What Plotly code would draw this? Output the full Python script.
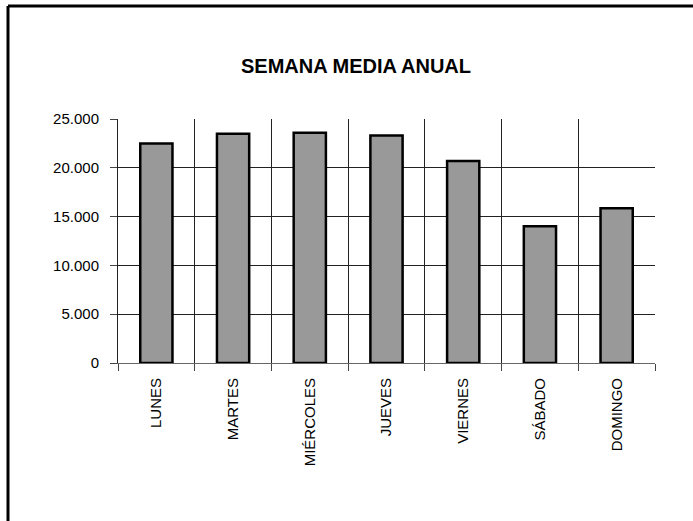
import plotly.graph_objects as go

dias = ["LUNES", "MARTES", "MIÉRCOLES", "JUEVES", "VIERNES", "SÁBADO", "DOMINGO"]
media = [22500, 23500, 23600, 23300, 20700, 14000, 15850]
y_ticks = [0, 5000, 10000, 15000, 20000, 25000]

# plot area in pixels (Excel-like chart)
W, H = 693, 521
L, R, T, B = 118, 655, 119, 363

fig = go.Figure()
fig.add_trace(go.Bar(
    x=dias, y=media,
    marker=dict(color="#999999", line=dict(color="black", width=2.5)),
    width=0.42,
))

font = "Liberation Sans, Arial, sans-serif"
fig.update_layout(
    width=W, height=H,
    margin=dict(l=L, r=W - R, t=T, b=H - B),
    paper_bgcolor="white", plot_bgcolor="white",
    separators=",.",
    showlegend=False,
    font=dict(family=font, size=15, color="black"),
    title=dict(text="<b>SEMANA MEDIA ANUAL</b>", x=(356 / W), xanchor="center",
               y=1 - 66 / H, yanchor="middle", font=dict(size=20)),
)
fig.update_xaxes(
    tickson="boundaries", showgrid=True, gridcolor="#222222", gridwidth=1,
    ticks="outside", ticklen=7, tickcolor="#444444",
    tickangle=-90, showline=True, linecolor="#666666", linewidth=1,
    ticklabelstandoff=8,
)
fig.update_yaxes(
    range=[0, 25000], tickvals=y_ticks, tickformat=",d",
    showgrid=True, gridcolor="#222222", gridwidth=1,
    ticks="outside", ticklen=7, tickcolor="#444444",
    showline=True, linecolor="#222222", linewidth=1,
    zeroline=False, ticklabelstandoff=8,
)

# outer chart border (left and top edges visible in the crop)
pw, ph = R - L, B - T
bx = (8 - L) / pw
by = (B - 6) / ph
fig.add_shape(type="line", xref="paper", yref="paper", x0=bx, x1=bx, y0=by, y1=-1,
              line=dict(color="black", width=3))
fig.add_shape(type="line", xref="paper", yref="paper", x0=bx, x1=2, y0=by, y1=by,
              line=dict(color="black", width=3))

# page has a default 8px body margin; remove it so the figure sits at 0,0
fig.write_html("out.html", config={"displayModeBar": False},
               post_script="document.body.style.margin='0';")
